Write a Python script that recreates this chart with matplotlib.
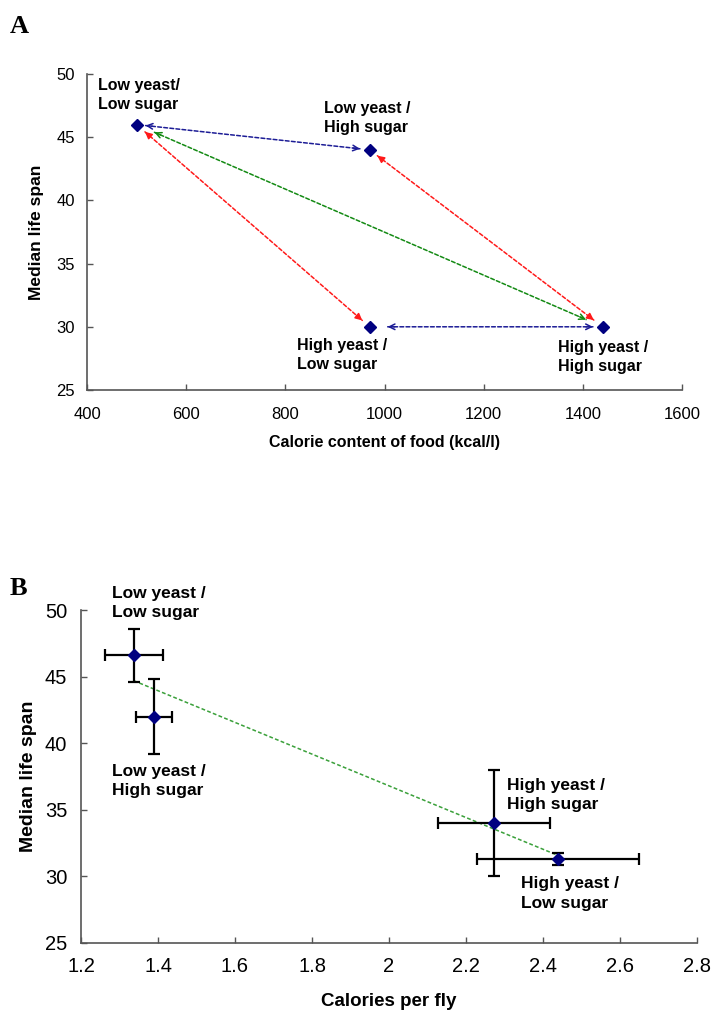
import numpy as np
import matplotlib
matplotlib.use('Agg')
import matplotlib.pyplot as plt
from matplotlib.ticker import FuncFormatter

plt.rcParams['font.family'] = ['Liberation Sans', 'DejaVu Sans']

# panel A: calorie content of food vs median life span
# order: LY/LS, LY/HS, HY/LS, HY/HS
calorie_food = [500, 970, 970, 1440]
lifespan_a = [46, 44, 30, 30]
labels_a = ['Low yeast/\nLow sugar', 'Low yeast /\nHigh sugar',
            'High yeast /\nLow sugar', 'High yeast /\nHigh sugar']

# panel B: calories per fly vs median life span (same order)
cal_per_fly = [1.337, 1.389, 2.439, 2.272]
cal_err = [0.075, 0.047, 0.21, 0.145]
lifespan_b = [46.6, 42.0, 31.3, 34.0]
lifespan_err = [2.0, 2.8, 0.45, 4.0]
labels_b = ['Low yeast /\nLow sugar', 'Low yeast /\nHigh sugar',
            'High yeast /\nLow sugar', 'High yeast /\nHigh sugar']

xticks_a = [400, 600, 800, 1000, 1200, 1400, 1600]
xticks_b = [1.2, 1.4, 1.6, 1.8, 2.0, 2.2, 2.4, 2.6, 2.8]
yticks = [25, 30, 35, 40, 45, 50]

NAVY = '#000080'
AXIS = '#555555'

fig = plt.figure(figsize=(7.22, 10.26), dpi=100)
W, H = 722, 1026


def style_axes(ax, tick_size, xpad, ypad):
    for s in ['top', 'right']:
        ax.spines[s].set_visible(False)
    for s in ['left', 'bottom']:
        ax.spines[s].set_color(AXIS)
        ax.spines[s].set_linewidth(1.2)
    ax.tick_params(direction='in', length=4, width=1, color=AXIS,
                   labelsize=tick_size)
    ax.tick_params(axis='x', pad=xpad)
    ax.tick_params(axis='y', pad=ypad)


def link(ax, p, q, color, head, gap_p, gap_q):
    # dashed shaft plus solid heads at both ends
    (x0, y0), (x1, y1) = ax.transData.transform([p, q])
    length = np.hypot(x1 - x0, y1 - y0) * 72 / fig.dpi
    ax.annotate('', xy=q, xytext=p,
                arrowprops=dict(arrowstyle='-', color=color, lw=1.1,
                                linestyle=(0, (2.5, 1.5)),
                                shrinkA=gap_p, shrinkB=gap_q))
    tip = 5
    hs = '-|>' if head == 'fill' else '->'
    ax.annotate('', xy=q, xytext=p,
                arrowprops=dict(arrowstyle=hs, color=color, lw=1.1,
                                shrinkA=length - gap_q - tip, shrinkB=gap_q))
    ax.annotate('', xy=p, xytext=q,
                arrowprops=dict(arrowstyle=hs, color=color, lw=1.1,
                                shrinkA=length - gap_p - tip, shrinkB=gap_p))


# ---------------- panel A ----------------
ax1 = fig.add_axes([87 / W, 1 - 390 / H, (682 - 87) / W, (390 - 74) / H])
ax1.set_xlim(400, 1600)
ax1.set_ylim(25, 50)
ax1.set_xticks(xticks_a)
ax1.set_yticks(yticks)
style_axes(ax1, 12, 12.5, 8.5)

pts_a = list(zip(calorie_food, lifespan_a))
link(ax1, pts_a[0], pts_a[1], '#1c1c96', 'open', 6.5, 7)
link(ax1, pts_a[2], pts_a[3], '#1c1c96', 'open', 13, 7)
link(ax1, pts_a[0], pts_a[3], '#138a13', 'open', 14, 13)
link(ax1, pts_a[0], pts_a[2], '#ff1a1a', 'fill', 8, 7)
link(ax1, pts_a[1], pts_a[3], '#ff1a1a', 'fill', 7, 8)

ax1.plot(calorie_food, lifespan_a, 'D', color=NAVY, ms=6, zorder=5)

offs_a = [(-28, 21), (-33, 23), (-52.5, -20.5), (-32.4, -22)]
for (x, y), lab, off in zip(pts_a, labels_a, offs_a):
    ax1.annotate(lab, xy=(x, y), xytext=off, textcoords='offset points',
                 ha='left', va='center', fontsize=11.5, fontweight='bold',
                 linespacing=1.35)

ax1.set_xlabel('Calorie content of food (kcal/l)', fontsize=11.5,
               fontweight='bold')
ax1.set_ylabel('Median life span', fontsize=12.5, fontweight='bold')
ax1.xaxis.set_label_coords(0.5, -0.142)
ax1.yaxis.set_label_coords(-0.072, 0.5)

fig.text(10 / W, 1 - 33 / H, 'A', fontsize=19, fontweight='bold',
         family='Liberation Serif')

# ---------------- panel B ----------------
ax2 = fig.add_axes([81 / W, 1 - 943 / H, (697 - 81) / W, (943 - 610) / H])
ax2.set_xlim(1.2, 2.8)
ax2.set_ylim(25, 50)
ax2.set_xticks(xticks_b)
ax2.set_yticks(yticks)
ax2.xaxis.set_major_formatter(FuncFormatter(lambda v, _: '%g' % v))
style_axes(ax2, 14.5, 10, 10)

slope, icpt = np.polyfit(cal_per_fly, lifespan_b, 1)
xs = np.array([min(cal_per_fly), max(cal_per_fly)])
ax2.plot(xs, slope * xs + icpt, color='#3aa03a', lw=1.1,
         linestyle=(0, (2.5, 1.5)), zorder=2)

ax2.errorbar(cal_per_fly, lifespan_b, xerr=cal_err, yerr=lifespan_err,
             fmt='D', color=NAVY, ms=6, ecolor='black', elinewidth=1.6,
             capsize=4, capthick=1.6, zorder=3)

offs_b = [(-16, 37.8), (-30, -46.4), (-26.6, -24.8), (9.4, 20)]
for x, y, lab, off in zip(cal_per_fly, lifespan_b, labels_b, offs_b):
    ax2.annotate(lab, xy=(x, y), xytext=off, textcoords='offset points',
                 ha='left', va='center', fontsize=12.5, fontweight='bold',
                 linespacing=1.35)

ax2.set_xlabel('Calories per fly', fontsize=13.5, fontweight='bold')
ax2.set_ylabel('Median life span', fontsize=14, fontweight='bold')
ax2.xaxis.set_label_coords(0.5, -0.15)
ax2.yaxis.set_label_coords(-0.071, 0.5)

fig.text(10 / W, 1 - 595 / H, 'B', fontsize=19, fontweight='bold',
         family='Liberation Serif')

fig.savefig('out.png', dpi=100)
